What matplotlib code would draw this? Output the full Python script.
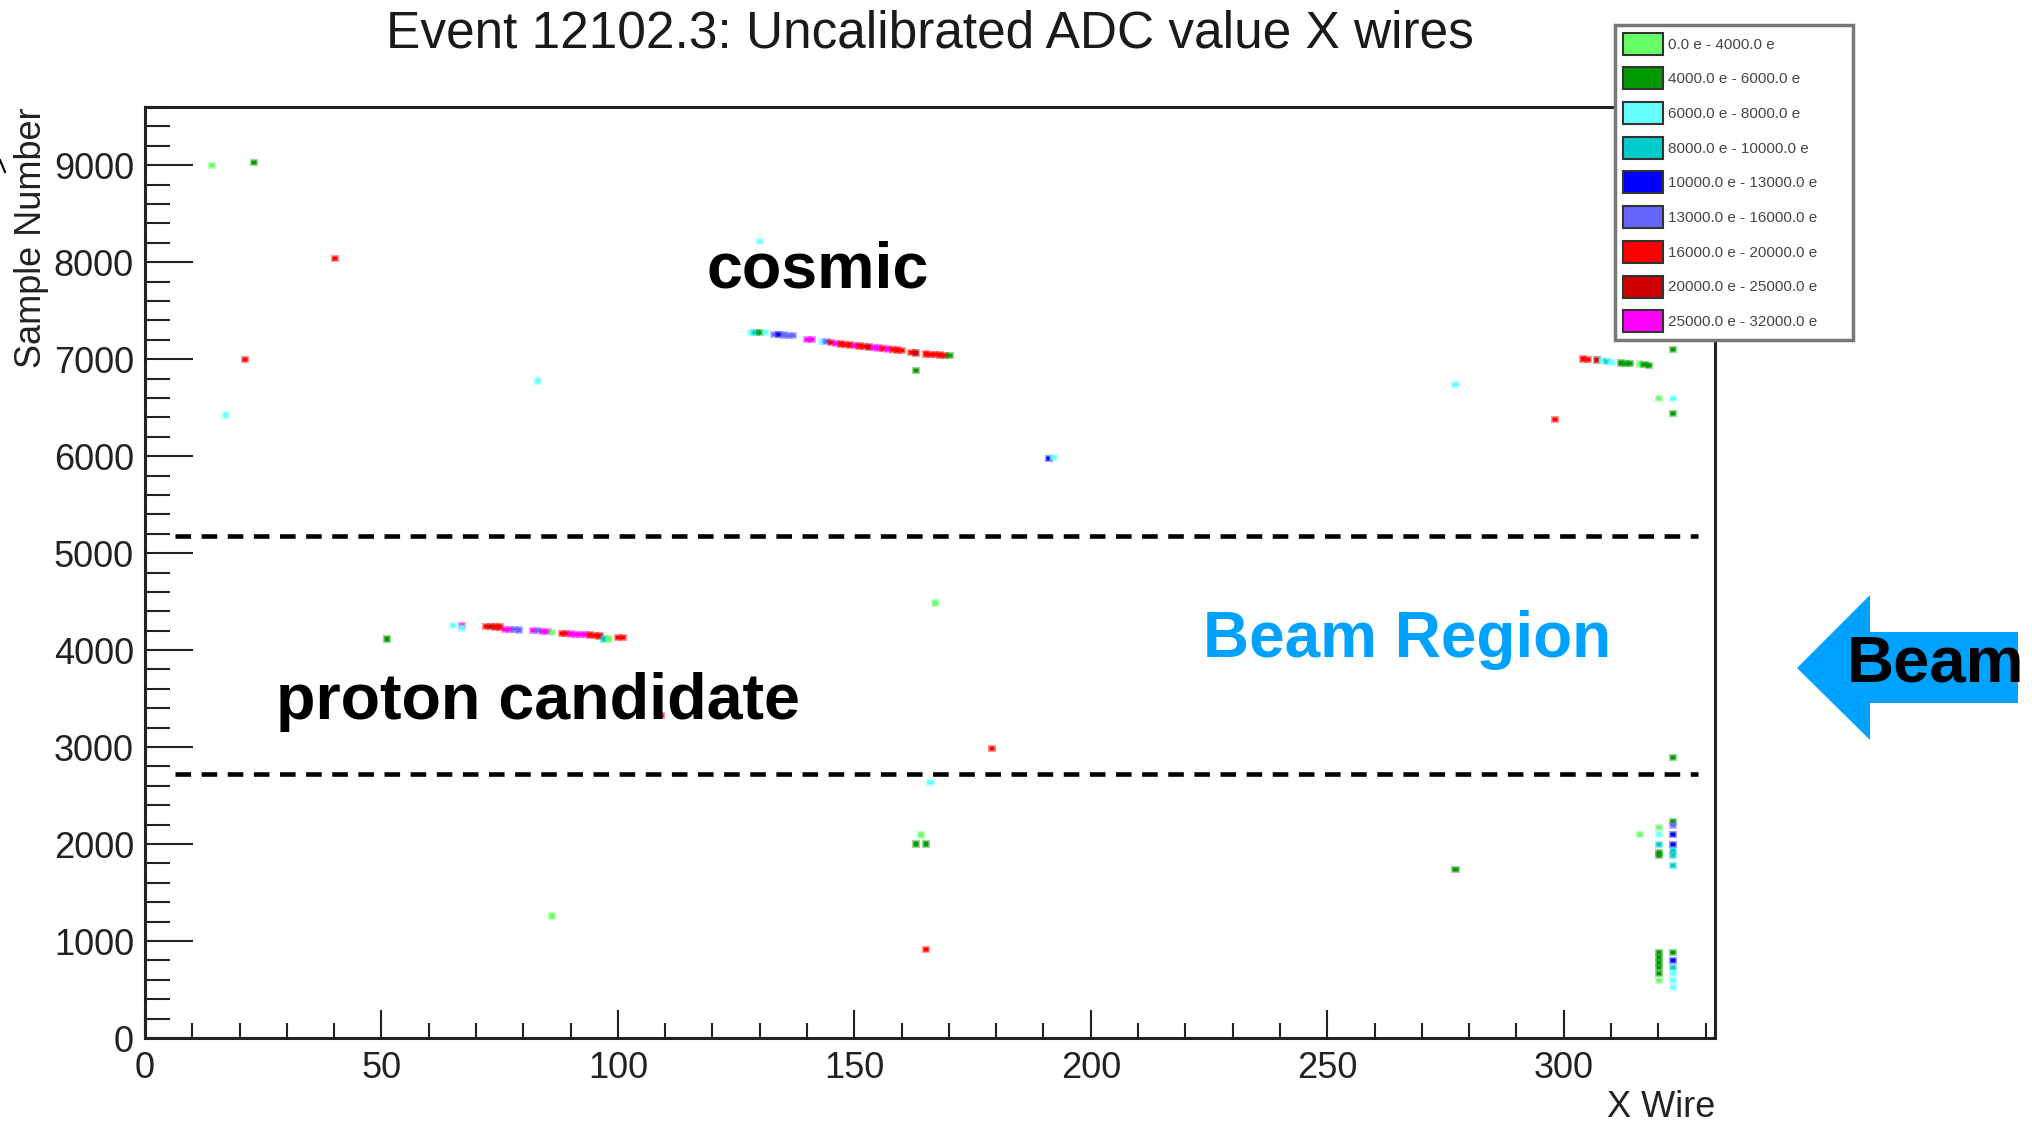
import matplotlib
matplotlib.use("Agg")
import matplotlib.pyplot as plt
import numpy as np
from matplotlib.patches import Patch, Polygon
from matplotlib.lines import Line2D
from matplotlib.ticker import MultipleLocator
from matplotlib.colors import to_rgba

plt.rcParams['font.family'] = ['Liberation Sans', 'DejaVu Sans']

# ---------------- data ----------------
title = "Event 12102.3: Uncalibrated ADC value X wires"
legend_labels = ["0.0 e - 4000.0 e", "4000.0 e - 6000.0 e", "6000.0 e - 8000.0 e",
                 "8000.0 e - 10000.0 e", "10000.0 e - 13000.0 e", "13000.0 e - 16000.0 e",
                 "16000.0 e - 20000.0 e", "20000.0 e - 25000.0 e", "25000.0 e - 32000.0 e"]
bin_colors = ["#66FF66", "#009900", "#66FFFF", "#00CCCC", "#0000FF",
              "#6666FF", "#FF0000", "#CC0000", "#FF00FF"]

# cosmic track hits (wire, sample, charge bin)
cosmic_wire = [128, 129, 130, 131, 133, 134, 135, 136, 137, 140, 141, 143, 144, 145, 146,
               147, 148, 149, 150, 151, 152, 153, 154, 155, 156, 157, 158, 159, 160, 162,
               163, 165, 166, 167, 168, 169, 170]
cosmic_sample = [7280, 7280, 7282, 7278, 7262, 7258, 7255, 7252, 7250, 7210, 7205, 7190,
                 7185, 7175, 7168, 7162, 7155, 7150, 7145, 7140, 7135, 7130, 7125, 7120,
                 7115, 7110, 7105, 7100, 7095, 7075, 7070, 7060, 7055, 7050, 7048, 7045, 7040]
cosmic_bin = [2, 3, 1, 2, 5, 4, 5, 5, 5, 8, 8, 2, 5, 6, 8, 6, 6, 6, 8, 6, 6, 7, 8, 8, 6,
              8, 6, 6, 6, 6, 7, 6, 6, 6, 6, 6, 1]

# proton candidate hits
proton_wire = [65, 67, 67, 72, 73, 74, 75, 76, 77, 78, 79, 82, 83, 84, 85, 86, 88, 89, 90,
               91, 92, 93, 94, 95, 96, 97, 98, 100, 101]
proton_sample = [4258, 4258, 4232, 4247, 4247, 4245, 4243, 4220, 4218, 4215, 4213, 4206,
                 4204, 4198, 4196, 4188, 4178, 4176, 4170, 4168, 4166, 4164, 4160, 4155,
                 4150, 4120, 4118, 4135, 4133]
proton_bin = [2, 8, 2, 6, 7, 6, 6, 8, 8, 5, 5, 8, 5, 8, 8, 0, 6, 6, 8, 8, 8, 8, 6, 6, 6,
              3, 0, 6, 6]

# second cosmic near the last wires
edge_wire = [304, 305, 307, 308, 309, 310, 312, 313, 314, 316, 317, 318]
edge_sample = [7005, 7000, 6995, 6990, 6980, 6970, 6965, 6960, 6958, 6955, 6950, 6940]
edge_bin = [6, 6, 7, 2, 3, 2, 1, 1, 1, 0, 1, 1]

# isolated hits and the low-sample clusters
other_wire = [14, 23, 40, 21, 17, 83, 130, 163, 191, 192, 277, 298, 323, 320, 323, 323,
              51, 167, 109, 179, 323, 166, 163, 165, 164, 277, 86, 165,
              316, 320, 320, 320, 320, 320, 323, 323, 323, 323, 323, 323, 323,
              320, 320, 320, 320, 320, 320, 323, 323, 323, 323, 323, 323]
other_sample = [9000, 9030, 8040, 7000, 6430, 6780, 8215, 6890, 5980, 5990, 6745, 6385,
                7103, 6598, 6598, 6443,
                4120, 4490, 3330, 2990, 2895, 2640, 2006, 2006, 2100, 1745, 1265, 915,
                2103, 2175, 2103, 2000, 1917, 1887, 2237, 2196, 2103, 2000, 1938, 1887, 1784,
                887, 835, 784, 732, 670, 598, 887, 804, 732, 670, 598, 526]
other_bin = [0, 1, 6, 6, 2, 2, 2, 1, 4, 2, 2, 6, 1, 0, 2, 1,
             1, 0, 6, 6, 1, 2, 1, 1, 0, 1, 0, 6,
             0, 0, 2, 3, 1, 1, 1, 5, 4, 4, 3, 3, 3,
             1, 1, 1, 1, 1, 0, 1, 4, 3, 2, 2, 2]

region_bounds = [2720, 5180]

# ---------------- figure ----------------
W, H = 2033, 1123
fig = plt.figure(figsize=(W / 100, H / 100), dpi=100)
fig.patch.set_facecolor("white")

def fx(px):
    return px / W

def fy(py):
    return 1 - py / H

ax = fig.add_axes([fx(145), fy(1038), fx(1715) - fx(145), fy(107) - fy(1038)])
ax.set_xlim(0, 332)
ax.set_ylim(0, 9600)

wires = np.array(cosmic_wire + proton_wire + edge_wire + other_wire, dtype=float)
samples = np.array(cosmic_sample + proton_sample + edge_sample + other_sample, dtype=float)
bins = cosmic_bin + proton_bin + edge_bin + other_bin
hit_h = 45
ax.bar(wires, hit_h, bottom=samples - hit_h / 2, width=1.1,
       color=[bin_colors[b] for b in bins],
       edgecolor=[to_rgba(bin_colors[b], 0.4) for b in bins], linewidth=2.2, zorder=3)

ax.hlines(region_bounds, 6.3, 328.5, colors="black", linewidth=3.3,
          linestyles=(0, (3.4, 2.3)), zorder=4)

# axes styling (ROOT-like)
for s in ax.spines.values():
    s.set_linewidth(2.2)
    s.set_color("#222222")
ax.xaxis.set_major_locator(MultipleLocator(50))
ax.xaxis.set_minor_locator(MultipleLocator(10))
ax.yaxis.set_major_locator(MultipleLocator(1000))
ax.yaxis.set_minor_locator(MultipleLocator(200))
ax.tick_params(axis="both", which="both", direction="in", colors="#222222",
               labelsize=26, top=False, right=False, width=1.5)
ax.tick_params(axis="x", which="major", length=20, pad=9)
ax.tick_params(axis="x", which="minor", length=11)
ax.tick_params(axis="y", which="major", length=34.5, pad=8)
ax.tick_params(axis="y", which="minor", length=18)

ax.set_xlabel("X Wire", fontsize=26, loc="right", labelpad=3, color="#222222")
ax.set_ylabel("Sample Number", fontsize=26, loc="top", labelpad=3, color="#222222")

fig.text(fx(930), fy(48), title, ha="center", va="baseline", fontsize=37, color="#1a1a1a")

# legend
handles = [Patch(facecolor=c, edgecolor="#333333", linewidth=1.5) for c in bin_colors]
leg = ax.legend(handles=handles, labels=legend_labels, loc="upper left",
                bbox_to_anchor=(fx(1615), fy(340), fx(1853) - fx(1615), fy(25) - fy(340)),
                bbox_transform=fig.transFigure, mode="expand", borderaxespad=0,
                fontsize=11, frameon=True, fancybox=False, framealpha=1,
                edgecolor="#777777", handlelength=2.62, handleheight=1.84,
                labelspacing=0.83, handletextpad=0.33, borderpad=0.5)
leg.get_frame().set_linewidth(2.5)
leg.set_zorder(10)
for t in leg.get_texts():
    t.set_color("#444444")

# annotations
fig.text(fx(707), fy(288), "cosmic", fontsize=46.5, fontweight="bold", ha="left",
         va="baseline", color="black")
fig.text(fx(276), fy(719), "proton candidate", fontsize=46.5, fontweight="bold", ha="left",
         va="baseline", color="black")
fig.text(fx(1203), fy(657), "Beam Region", fontsize=46, fontweight="bold", ha="left",
         va="baseline", color="#00A2FF")

arrow_px = [(1797, 668), (1870, 595), (1870, 632), (2018, 632), (2018, 703),
            (1870, 703), (1870, 740)]
fig.add_artist(Polygon([(fx(a), fy(b)) for a, b in arrow_px], closed=True,
                       transform=fig.transFigure, facecolor="#00A2FF", edgecolor="none"))
fig.text(fx(1847), fy(682), "Beam", fontsize=47, fontweight="bold", ha="left",
         va="baseline", color="black")

fig.add_artist(Line2D([fx(0), fx(5)], [fy(160), fy(172)], transform=fig.transFigure,
                      color="black", linewidth=1.5))

fig.savefig("out.png", dpi=100)
